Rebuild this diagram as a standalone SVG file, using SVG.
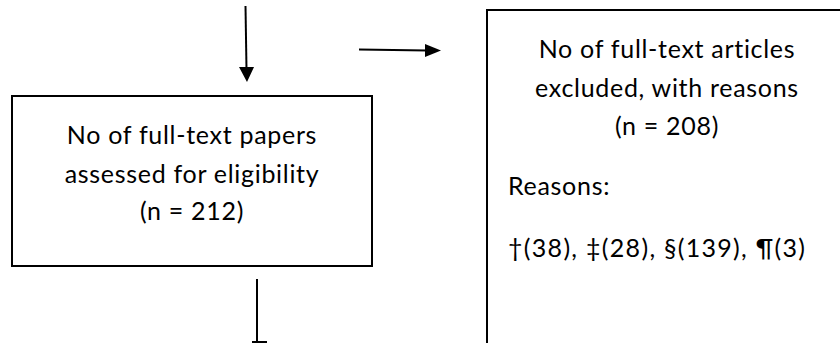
<svg xmlns="http://www.w3.org/2000/svg" width="840" height="343" viewBox="0 0 840 343">
<defs>
<style>
.box{fill:#fff;stroke:#000;stroke-width:2}
.ln{stroke:#000;stroke-width:2;fill:none}
.hd{fill:#000}
text{font-family:Lato,"Liberation Sans",sans-serif;font-size:25px;letter-spacing:0.7px;fill:#000}
.c{text-anchor:middle}
.w{letter-spacing:1.3px}
</style>
</defs>
<rect width="840" height="343" fill="#fff"/>
<g id="connectors">
<line class="ln" x1="245.5" y1="6" x2="246.5" y2="70"/>
<polygon class="hd" points="239,67 254,67 247,82"/>
<line class="ln" x1="359" y1="49.5" x2="427" y2="50.5"/>
<polygon class="hd" points="425,44 441,50.5 425,57"/>
<line class="ln" x1="257" y1="279" x2="257" y2="343"/>
<line class="ln" x1="252" y1="342" x2="267" y2="342"/>
</g>
<g id="assessed">
<rect class="box" x="12" y="96" width="360" height="170"/>
<text class="c" x="192" y="144">No of full-text papers</text>
<text class="c" x="192" y="183">assessed for eligibility</text>
<text class="c" x="192" y="220">(n = 212)</text>
</g>
<g id="excluded">
<rect class="box" x="487" y="10" width="370" height="350"/>
<text class="c" x="667" y="58">No of full-text articles</text>
<text class="c" x="667" y="97">excluded, with reasons</text>
<text class="c" x="667" y="135">(n = 208)</text>
<text x="508" y="195">Reasons:</text>
<text class="w" x="508" y="257">†(38), ‡(28), §(139), ¶(3)</text>
</g>
</svg>
